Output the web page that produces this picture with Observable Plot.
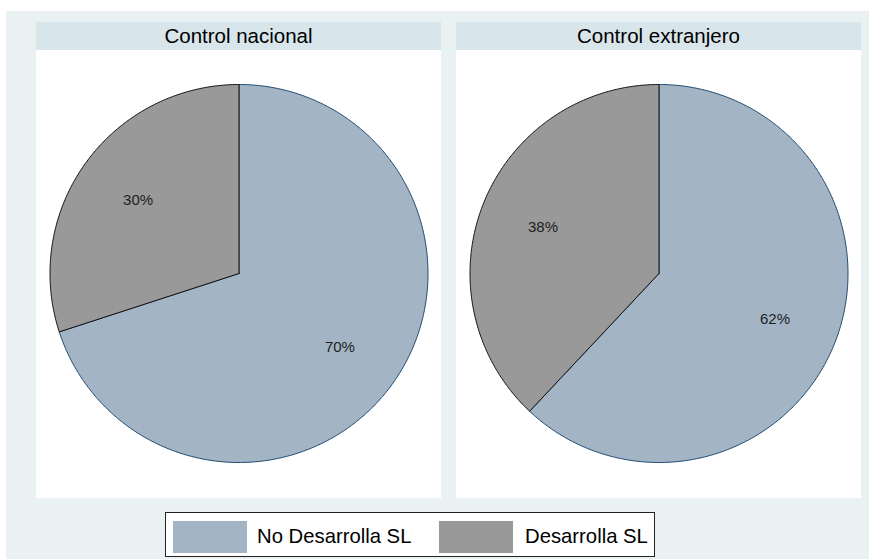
<!DOCTYPE html>
<html>
<head>
<meta charset="utf-8">
<script src="https://cdn.jsdelivr.net/npm/d3@7"></script>
<script src="https://cdn.jsdelivr.net/npm/@observablehq/plot@0.6"></script>
<style>
  html, body { margin: 0; padding: 0; background: #ffffff; }
  body { width: 869px; height: 559px; position: relative; overflow: hidden;
         font-family: "Liberation Sans", Arial, sans-serif; }
  #region { position: absolute; left: 6px; top: 11px; width: 863px; height: 548px; background: #e9f1f3; }
  .panel { position: absolute; top: 22px; width: 405px; }
  .strip { height: 28px; background: #d8e5eb; color: #000; font-size: 20.5px;
           line-height: 28px; text-align: center; }
  .panel svg { display: block; background: #ffffff; }
  #legend { position: absolute; left: 165px; top: 512px; width: 488px; height: 43px;
            background: #fff; border: 1px solid #222; }
  .key { position: absolute; top: 8px; width: 74px; height: 32px; }
  .lab { position: absolute; top: 7px; font-size: 20.3px; line-height: 32px; color: #000; white-space: nowrap; }
</style>
</head>
<body>
<div id="region"></div>
<div id="panels"></div>
<div id="legend"></div>
<script>
// Share of firms that develop SL, by type of control
const panels = ["Control nacional", "Control extranjero"];
const categories = ["No Desarrolla SL", "Desarrolla SL"];
const noDesarrolla = [70, 62];
const desarrolla = [30, 38];
const sliceColors = ["#a3b4c5", "#999999"];
const outlineColors = ["#1a476f", "#111111"];
const panelLeft = [36, 456];

// Build slice outlines in unit coordinates: slices start at 12 o'clock and run clockwise.
function sliceData(values) {
  const total = d3.sum(values);
  const polys = [];
  const labels = [];
  let start = 0;
  values.forEach((v, i) => {
    const a0 = start / total * 2 * Math.PI;
    const a1 = (start + v) / total * 2 * Math.PI;
    const steps = Math.max(2, Math.ceil((a1 - a0) / (Math.PI / 360)));
    const pts = [{category: categories[i], x: 0, y: 0}];
    for (let k = 0; k <= steps; k++) {
      const a = a0 + (a1 - a0) * k / steps;
      pts.push({category: categories[i], x: Math.sin(a), y: Math.cos(a)});
    }
    pts.push({category: categories[i], x: 0, y: 0});
    polys.push(pts);
    const am = (a0 + a1) / 2;
    labels.push({category: categories[i], value: v, x: 0.66 * Math.sin(am), y: 0.66 * Math.cos(am)});
    start += v;
  });
  return {polys, labels};
}

const host = document.getElementById("panels");
panels.forEach((name, p) => {
  const {polys, labels} = sliceData([noDesarrolla[p], desarrolla[p]]);
  const chart = Plot.plot({
    width: 405,
    height: 448,
    marginLeft: 13.5,
    marginRight: 13.5,
    marginTop: 34,
    marginBottom: 36,
    x: {domain: [-1, 1], axis: null},
    y: {domain: [-1, 1], axis: null},
    color: {domain: categories, range: sliceColors},
    style: {fontFamily: "Liberation Sans, Arial, sans-serif", background: "#ffffff"},
    marks: [
      ...polys.map((pts, i) => Plot.line(pts, {
        x: "x", y: "y", fill: "category", stroke: outlineColors[i],
        strokeWidth: 1, curve: "linear", strokeLinejoin: "miter"
      })),
      Plot.text(labels, {x: "x", y: "y", text: d => `${d.value}%`, fontSize: 15, fill: "#1e1e1e"})
    ]
  });
  const div = document.createElement("div");
  div.className = "panel";
  div.style.left = panelLeft[p] + "px";
  const strip = document.createElement("div");
  strip.className = "strip";
  strip.textContent = name;
  div.appendChild(strip);
  div.appendChild(chart);
  host.appendChild(div);
});

// Legend
const legend = document.getElementById("legend");
const keyLeft = [7, 273];
const labLeft = [91, 359];
categories.forEach((c, i) => {
  const k = document.createElement("div");
  k.className = "key";
  k.style.left = keyLeft[i] + "px";
  k.style.background = sliceColors[i];
  legend.appendChild(k);
  const t = document.createElement("div");
  t.className = "lab";
  t.style.left = labLeft[i] + "px";
  t.textContent = c;
  legend.appendChild(t);
});
</script>
</body>
</html>
